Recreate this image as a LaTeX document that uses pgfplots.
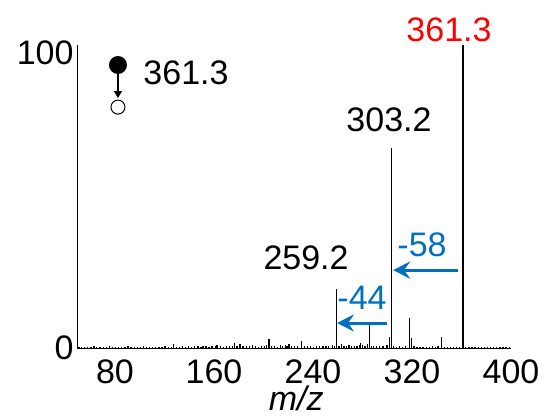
\documentclass[border=0pt]{standalone}
\usepackage{pgfplots}
\pgfplotsset{compat=1.18}
\usepackage{fontspec}
\setmainfont{Liberation Sans}
\usetikzlibrary{arrows.meta}
\definecolor{myblue}{RGB}{0,112,192}
\pgfplotstableread{
x y
51 0.3
53 0.2
55.5 0.4
58 0.3
60.5 0.2
63 0.5
65 0.3
68 0.2
70.5 0.4
73 0.3
75.5 0.5
78 0.2
80.5 0.3
83 0.4
85.5 0.3
88 0.2
90.5 0.5
93 0.3
95.5 0.4
98 0.2
100.5 0.3
103 0.5
105.5 0.3
108 0.4
110.5 0.2
113 0.3
115.5 0.4
118 0.3
120.5 0.5
123 0.3
125.5 0.4
127 1.2
129.5 0.4
132 0.3
134.5 0.5
137 0.4
139.5 0.6
142 0.3
144.5 0.5
147 0.6
149.5 0.4
151 0.8
153.5 0.5
156 0.4
158.5 0.6
161 0.5
162.5 1.0
165 0.6
167.5 0.4
170 0.7
172.5 0.5
175 0.8
176.3 1.6
178.5 0.6
181 1.3
183.5 0.5
186 0.7
188.5 0.5
191 1.0
193.5 0.6
196 0.4
198.5 0.7
201 0.5
202.5 0.9
204.4 3.0
206.5 0.8
209 0.6
211.5 0.4
213.5 0.9
215.5 0.7
217.5 1.1
219 0.8
220.5 1.3
222.5 0.7
225 0.5
227.5 0.6
230.9 2.4
233 0.7
235.5 0.5
238 0.6
240.5 0.4
243 0.7
245.5 0.5
248 0.6
250.5 0.8
252.5 0.6
255.7 1.0
257.5 0.5
259.2 19.5
261 0.6
262.9 1.2
265 0.7
267 0.6
269 1.1
271 0.5
273.5 0.7
275.5 0.6
277.5 0.9
278.6 1.5
280 1.0
282 0.7
284 1.2
285.4 7.6
287 0.8
289 0.6
291.5 0.5
294 0.7
296.5 0.5
299.7 0.9
301.8 3.7
303.2 66
305 0.6
307.5 0.4
310 0.5
312.5 0.3
315 0.5
318.2 9.8
319.4 3.2
321.5 0.5
324 0.3
326.5 0.4
329 0.3
331.5 0.4
334 0.3
336.5 0.6
339 0.4
341 0.5
343.6 3.5
346 0.3
348.5 0.2
351 0.3
353.5 0.2
356 0.3
358.5 0.2
361.3 100
363.5 0.4
366 0.2
368.5 0.3
371 0.2
373.5 0.3
376 0.2
378.5 0.3
381 0.2
383.5 0.3
386 0.2
388.5 0.3
391 0.2
393.5 0.2
396 0.3
398.5 0.2
}\spectrum
\begin{document}
\begin{tikzpicture}
\path[use as bounding box] (-77bp,-68bp) rectangle (469bp,348bp);
\begin{axis}[
  scale only axis, width=434bp, height=303bp,
  xmin=49.3, xmax=400, ymin=0, ymax=100,
  axis lines=left, axis line style={-, line width=0.8bp},
  xtick={80,160,240,320,400}, ytick={0,100},
  yticklabels={0,\raisebox{-8bp}[\height][\depth]{100}},
  major tick length=0pt, minor tick num=0,
  tick label style={font=\fontsize{34bp}{40bp}\selectfont},
  /pgf/number format/assume math mode=true,
  xticklabel style={yshift=-8bp},
  xlabel={\itshape m/z},
  xlabel style={at={(axis description cs:0.505,0)}, anchor=center, yshift=-50bp, font=\fontsize{34bp}{40bp}\selectfont},
  clip=false,
]
\addplot[ycomb, black, line width=1.3bp, mark=none] table[x=x, y=y] {\spectrum};
% peak annotations
\node[red, font=\fontsize{34bp}{40bp}\selectfont] at (axis cs:349.9,105) {361.3};
\node[black, font=\fontsize{34bp}{40bp}\selectfont] at (axis cs:301.4,75.2) {303.2};
\node[black, font=\fontsize{34bp}{40bp}\selectfont] at (axis cs:234.4,29.7) {259.2};
\node[myblue, font=\fontsize{34bp}{40bp}\selectfont] at (axis cs:328.1,34) {-58};
\node[myblue, font=\fontsize{34bp}{40bp}\selectfont] at (axis cs:279.6,16.5) {-44};
\draw[myblue, line width=3bp, -{Stealth[length=17bp,width=17bp,inset=6bp]}] (axis cs:357.2,25.7) -- (axis cs:304.7,25.7);
\draw[myblue, line width=3bp, -{Stealth[length=17bp,width=17bp,inset=6bp]}] (axis cs:299.8,8.25) -- (axis cs:259.4,8.25);
% precursor scheme
\node[black, font=\fontsize{34bp}{40bp}\selectfont] at (axis cs:137.4,90.8) {361.3};
\fill[black] (axis cs:82.4,93.4) circle[radius=9bp];
\draw[black, line width=1.2bp, -{Triangle[length=7bp,width=8bp]}] (axis cs:82.4,90.4) -- (axis cs:82.4,82.5);
\draw[black, line width=1bp, fill=white] (axis cs:82.4,79.5) circle[radius=7bp];
\end{axis}
\end{tikzpicture}
\end{document}
